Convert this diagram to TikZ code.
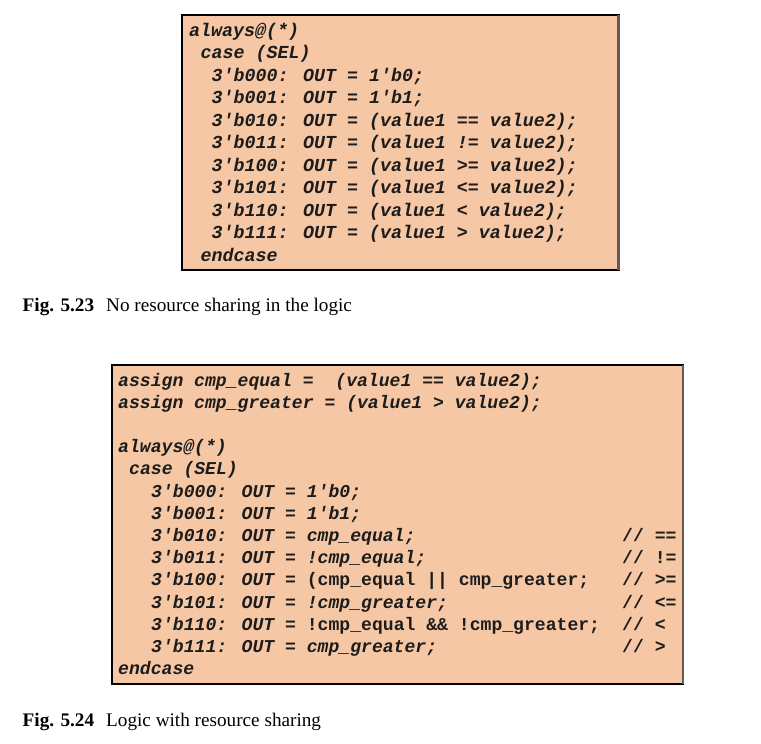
\documentclass[tikz,border=0pt]{standalone}
\usepackage{fontspec}
\setmainfont{Liberation Serif}
\newfontfamily\codefont{Liberation Mono}
\definecolor{peach}{RGB}{246,199,164}
\definecolor{codeink}{RGB}{28,28,28}
\definecolor{shadeedge}{RGB}{105,90,80}
\newcommand{\uprt}[1]{{\upshape #1}}
\tikzset{
  codebox/.style={fill=peach, draw=black, line width=1.8pt},
  codeA/.style={anchor=base west, inner sep=0pt, text=codeink,
    font=\codefont\bfseries\itshape\fontsize{18.3}{20}\selectfont},
  codeB/.style={anchor=base west, inner sep=0pt, text=codeink,
    font=\codefont\bfseries\itshape\fontsize{18.1}{20}\selectfont},
  captext/.style={anchor=base west, inner sep=0pt, font=\fontsize{19.2}{21}\selectfont},
}
\begin{document}
\begin{tikzpicture}[x=1pt,y=-1pt]
\useasboundingbox (0,0) rectangle (761,744);
% ---------- box 1 ----------
\draw[codebox] (182,15) rectangle (619,270);
\draw[shadeedge, line width=2.4pt] (618.5,15) -- (618.5,270);
\node[codeA] (a0) at (189,36.5) {always@(*)};
\node[codeA] (a1) at (200.5,58.95) {case (SEL)};
\node[codeA] (a2) at (211.5,81.4) {3'b000: OUT = 1'b0;};
\node[codeA] (a3) at (211.5,103.85) {3'b001: OUT = 1'b1;};
\node[codeA] (a4) at (211.5,126.3) {3'b010: OUT = (value1 == value2);};
\node[codeA] (a5) at (211.5,148.75) {3'b011: OUT = (value1 != value2);};
\node[codeA] (a6) at (211.5,171.2) {3'b100: OUT = (value1 >= value2);};
\node[codeA] (a7) at (211.5,193.65) {3'b101: OUT = (value1 <= value2);};
\node[codeA] (a8) at (211.5,216.1) {3'b110: OUT = (value1 < value2);};
\node[codeA] (a9) at (211.5,238.55) {3'b111: OUT = (value1 > value2);};
\node[codeA] (a10) at (200.5,261) {endcase};
% caption 1
\node[captext] (cap1) at (22.5,311) {\textbf{Fig. 5.23}};
\node[captext] (cap1t) at (106,311) {No resource sharing in the logic};
% ---------- box 2 ----------
\draw[codebox] (112,365) rectangle (683,684);
\draw[shadeedge, line width=2pt] (682.5,365) -- (682.5,684);
\node[codeB] (b0) at (118,386) {assign cmp\_equal =~ (value1 == value2);};
\node[codeB] (b1) at (118,408.2) {assign cmp\_greater = (value1 > value2);};
\node[codeB] (b3) at (118,452.6) {always@(*)};
\node[codeB] (b4) at (129,474.8) {case (SEL)};
\node[codeB] (b5) at (151,497) {3'b000: OUT = 1'b0;};
\node[codeB] (b6) at (151,519.2) {3'b001: OUT = 1'b1;};
\node[codeB] (b7) at (151,541.4) {3'b010: OUT = cmp\_equal;};
\node[codeB] (b8) at (151,563.6) {3'b011: OUT = !cmp\_equal;};
\node[codeB] (b9) at (151,585.8) {3'b100: OUT = \uprt{(cmp\_equal || cmp\_greater;}};
\node[codeB] (b10) at (151,608) {3'b101: OUT = !cmp\_greater;};
\node[codeB] (b11) at (151,630.2) {3'b110: OUT = \uprt{!cmp\_equal \&\& !cmp\_greater;}};
\node[codeB] (b12) at (151,652.4) {3'b111: OUT = cmp\_greater;};
\node[codeB] (b13) at (118,674.6) {endcase};
% comments
\node[codeB] (c7) at (622,541.4) {\uprt{// ==}};
\node[codeB] (c8) at (622,563.6) {\uprt{// !=}};
\node[codeB] (c9) at (622,585.8) {\uprt{// >=}};
\node[codeB] (c10) at (622,608) {\uprt{// <=}};
\node[codeB] (c11) at (622,630.2) {\uprt{// <}};
\node[codeB] (c12) at (622,652.4) {\uprt{// >}};
% caption 2
\node[captext] (cap2) at (22.5,726) {\textbf{Fig. 5.24}};
\node[captext] (cap2t) at (106,726) {Logic with resource sharing};
\end{tikzpicture}
\end{document}
